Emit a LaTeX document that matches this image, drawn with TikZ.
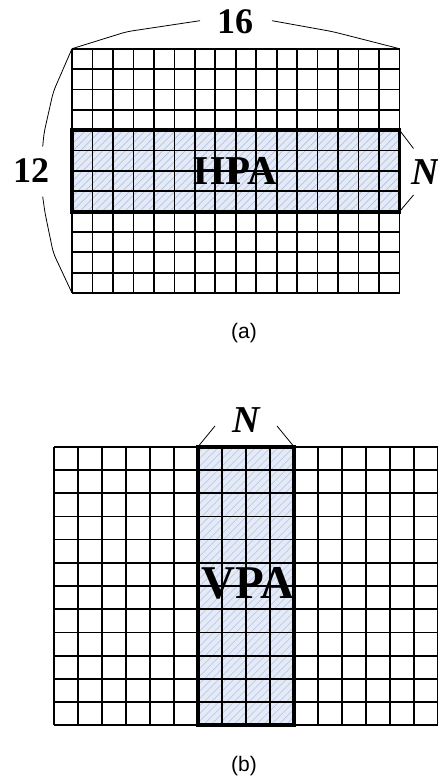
\documentclass[tikz,border=0pt]{standalone}
\usepackage{fontspec}
\setmainfont{Liberation Serif}
\newfontfamily\capfont{Liberation Sans}
\definecolor{bandfill}{HTML}{E4EAF6}
\definecolor{hatchcol}{HTML}{B2C3E6}
\begin{document}
\begin{tikzpicture}[x=1pt,y=-1pt,
  gridline/.style={line width=1.7pt,black},
  bandborder/.style={line width=3.8pt,black,line join=miter},
  bracket/.style={line width=0.8pt,black,rounded corners=6pt},
  hatch/.style={line width=0.6pt,hatchcol},
  numlabel/.style={font=\fontsize{36}{36}\selectfont\bfseries,inner sep=0pt},
  nlabel/.style={font=\fontsize{38}{38}\selectfont\bfseries\itshape,inner sep=0pt},
  arealabel/.style={font=\fontsize{#1}{#1}\selectfont\bfseries,inner sep=0pt},
  caption/.style={font=\capfont\fontsize{21}{21}\selectfont,inner sep=0pt}]
\useasboundingbox (0,0) rectangle (438,778);
\clip (0,0) rectangle (438,778);

% ---------------- (a) ----------------
\coordinate (atl) at (72,48.7);
\coordinate (atr) at (399.5,48.7);
\coordinate (abl) at (72,293);
\coordinate (hpatr) at (399.5,130.2);
\coordinate (hpabr) at (399.5,211.6);
\begin{scope}
  \clip (72,130.2) rectangle (399.5,211.6);
  \fill[bandfill] (72,130.2) rectangle (399.5,211.6);
  \foreach \i in {0,...,55} \draw[hatch] ({72+\i*7.5-90},211.6) -- ++(90,-90);
\end{scope}
\foreach \i in {0,...,16} \draw[gridline] ({72+\i*20.47},48.7) -- ({72+\i*20.47},293);
\foreach \j in {0,...,12} \draw[gridline] (72,{48.7+\j*20.36}) -- (399.5,{48.7+\j*20.36});
\draw[bandborder] (72,130.2) rectangle (399.5,211.6);
\node[arealabel=41] (hpa) at (235,171) {HPA};

\node[numlabel] (n16) at (235,22) {16};
\node[numlabel] (n12) at (31,171) {12};
\node[nlabel] (na) at (425,172) {N};
\coordinate (t16l) at (200,20.7);
\coordinate (t16r) at (272,20.7);
\coordinate (t12t) at (42.7,146.7);
\coordinate (t12b) at (42.7,196.7);
\coordinate (tnat) at (413.5,148.5);
\coordinate (tnab) at (413.5,195);
\draw[bracket] (atl) -- (126.7,31.7) -- (t16l);
\draw[bracket] (t16r) -- (333,31.7) -- (atr);
\draw[bracket] (atl) -- (53.3,91.7) -- (44,133) -- (t12t);
\draw[bracket] (t12b) -- (45,213) -- (53.3,253) -- (abl);
\draw[bracket] (hpatr) -- (tnat);
\draw[bracket] (tnab) -- (hpabr);
\node[caption] (capa) at (244,333) {(a)};

% ---------------- (b) ----------------
\coordinate (vtl) at (198,446.7);
\coordinate (vtr) at (294,446.7);
\begin{scope}
  \clip (198,446.7) rectangle (294,725.3);
  \fill[bandfill] (198,446.7) rectangle (294,725.3);
  \foreach \i in {0,...,55} \draw[hatch] ({198+\i*7.5-280},725.3) -- ++(280,-280);
\end{scope}
\foreach \i in {0,...,16} \draw[gridline] ({54+\i*24},446.7) -- ({54+\i*24},725.3);
\foreach \j in {0,...,12} \draw[gridline] (54,{446.7+\j*23.22}) -- (438,{446.7+\j*23.22});
\draw[bandborder] (198,446.7) rectangle (294,725.3);
\node[arealabel=47] (vpa) at (248,583) {VPA};

\node[nlabel] (nb) at (246,420) {N};
\coordinate (tnbl) at (215,426);
\coordinate (tnbr) at (277,426);
\draw[bracket] (vtl) -- (tnbl);
\draw[bracket] (tnbr) -- (vtr);
\node[caption] (capb) at (244,766.5) {(b)};
\end{tikzpicture}
\end{document}
